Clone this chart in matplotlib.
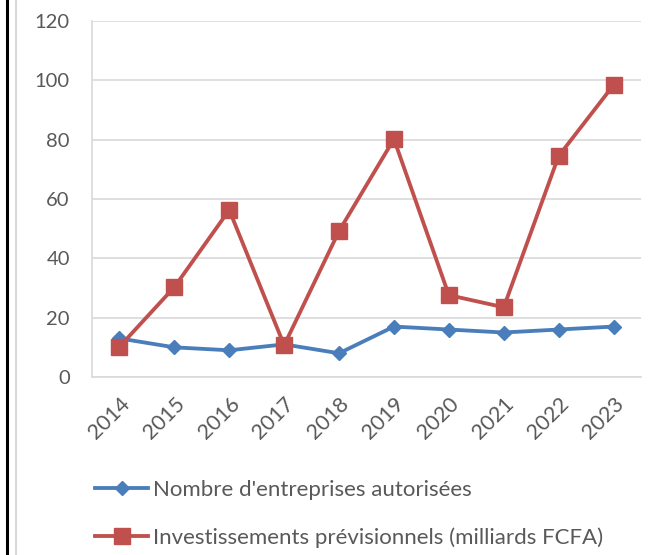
import matplotlib
matplotlib.use("Agg")
import matplotlib.pyplot as plt
from matplotlib.lines import Line2D

plt.rcParams['font.family'] = ['Lato', 'DejaVu Sans']

# data
years = ['2014', '2015', '2016', '2017', '2018', '2019', '2020', '2021', '2022', '2023']
entreprises = [13, 10, 9, 11, 8, 17, 16, 15, 16, 17]
investissements = [10.2, 30.3, 56.3, 10.7, 49.2, 80.2, 27.6, 23.5, 74.5, 98.4]
yticks = [0, 20, 40, 60, 80, 100, 120]

blue = '#4a7ebb'
red = '#c0504d'
grey_txt = '#595959'
grid_c = '#d9d9d9'

fig = plt.figure(figsize=(6.62, 5.55), dpi=100)
ax = fig.add_axes([92/662, 1-377/555, (641-92)/662, (377-21)/555])

x = range(len(years))
ax.plot(x, entreprises, color=blue, lw=2.75, marker='D', markersize=7.5,
        label="Nombre d'entreprises autorisées", zorder=3)
ax.plot(x, investissements, color=red, lw=2.75, marker='s', markersize=11,
        label="Investissements prévisionnels (milliards FCFA)", zorder=4)

ax.set_xlim(-0.5, len(years) - 0.5)
ax.set_ylim(0, 120)
ax.set_yticks(yticks)
ax.yaxis.grid(True, color=grid_c, lw=1.2)
ax.set_axisbelow(True)
ax.set_xticks(list(x))
ax.set_xticklabels(years, rotation=45, ha='right', rotation_mode='anchor')
ax.tick_params(length=0, colors=grey_txt)
ax.tick_params(axis='y', pad=16, labelsize=14.5)
ax.tick_params(axis='x', pad=12, labelsize=15.5)
for s in ['top', 'right']:
    ax.spines[s].set_visible(False)
for s in ['left', 'bottom']:
    ax.spines[s].set_color(grid_c)
    ax.spines[s].set_linewidth(1.2)

fig.legend(loc='upper left', bbox_to_anchor=(95/662, 1-480/555), frameon=False,
           fontsize=16, labelcolor=grey_txt, handlelength=2.4, handletextpad=0.22,
           labelspacing=1.23, borderpad=0, borderaxespad=0)

# frame lines on the left edge
fig.add_artist(Line2D([7/662, 7/662], [0, 1], color='black', lw=2.2))
fig.add_artist(Line2D([16/662, 16/662], [0, 1], color='#d9d9d9', lw=1.5))

fig.savefig('out.png', dpi=100)
